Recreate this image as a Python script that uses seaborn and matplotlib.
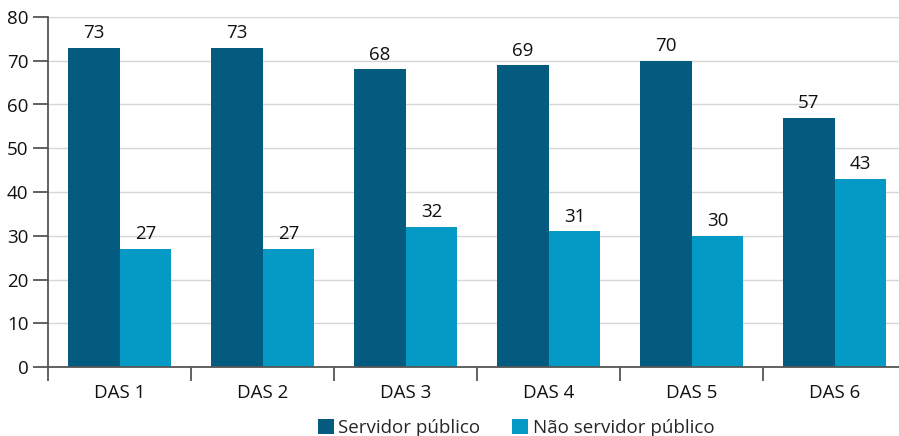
import matplotlib
matplotlib.use("Agg")
import matplotlib.pyplot as plt
from matplotlib.patches import Patch
import seaborn as sns
import pandas as pd

categories = ["DAS 1", "DAS 2", "DAS 3", "DAS 4", "DAS 5", "DAS 6"]
servidor = [73, 73, 68, 69, 70, 57]
nao_servidor = [27, 27, 32, 31, 30, 43]
series_names = ["Servidor público", "Não servidor público"]
colors = ["#035c7f", "#0599c5"]
y_ticks = [0, 10, 20, 30, 40, 50, 60, 70, 80]

df = pd.DataFrame({
    "cat": categories * 2,
    "valor": servidor + nao_servidor,
    "grupo": [series_names[0]] * len(categories) + [series_names[1]] * len(categories),
})

sns.set_theme(style="white")
plt.rcParams["font.family"] = ["Open Sans", "DejaVu Sans"]
FS = 13.5

fig = plt.figure(figsize=(8.99, 4.36), dpi=100)
W, H = 899, 436
ax = fig.add_axes([48 / W, (H - 367) / H, (906 - 48) / W, 350 / H])

sns.barplot(data=df, x="cat", y="valor", hue="grupo", order=categories,
            hue_order=series_names, palette=colors, width=0.727, gap=0,
            saturation=1, edgecolor="none", linewidth=0, legend=False, ax=ax,
            errorbar=None)

ax.set_xlim(-0.5, len(categories) - 0.5)
ax.set_ylim(0, 80)
ax.set_yticks(y_ticks)
ax.set_xlabel("")
ax.set_ylabel("")

ax.yaxis.grid(True, color="#d6d6d6", linewidth=1.0)
ax.set_axisbelow(True)

for side in ["top", "right"]:
    ax.spines[side].set_visible(False)
for side in ["left", "bottom"]:
    ax.spines[side].set_color("#555555")
    ax.spines[side].set_linewidth(1.3)

# y ticks outward; x ticks at category boundaries
ax.tick_params(axis="y", which="major", direction="out", length=11, width=1.3,
               color="#555555", labelsize=FS, pad=3, left=True, labelcolor="#111111")
ax.set_xticks(range(len(categories)))
ax.set_xticklabels(categories)
ax.tick_params(axis="x", which="major", length=0, labelsize=FS, pad=12,
               labelcolor="#111111")
ax.set_xticks([i + 0.5 for i in range(-1, len(categories))], minor=True)
ax.tick_params(axis="x", which="minor", direction="out", length=10, width=1.3,
               color="#555555", bottom=True)

for cont in ax.containers:
    ax.bar_label(cont, fmt="%d", padding=4, fontsize=FS, color="#111111")

handles = [Patch(facecolor=c, edgecolor="none") for c in colors]
fig.legend(handles, series_names, loc="center", bbox_to_anchor=(516 / W, 1 - 428 / H),
           ncol=2, frameon=False, fontsize=FS, handlelength=0.85, handleheight=0.85,
           handletextpad=0.25, columnspacing=1.7, borderpad=0, borderaxespad=0)

fig.savefig("out.png", dpi=100)
